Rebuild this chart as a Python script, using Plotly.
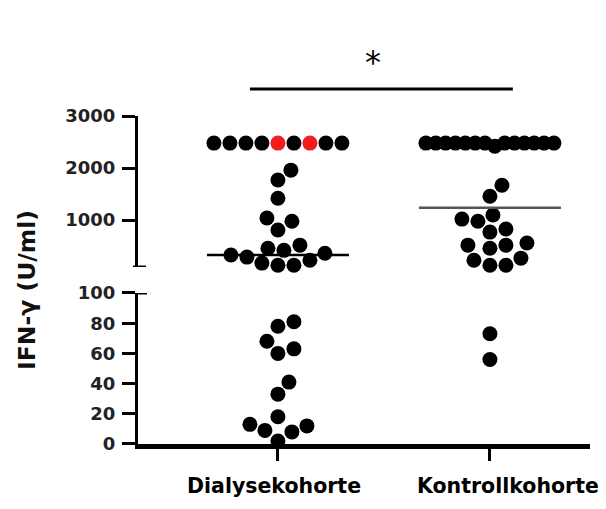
import math
import plotly.graph_objects as go

# ---------------- data ----------------
categories = ["Dialysekohorte", "Kontrollkohorte"]

dialyse_values = [2480, 2480, 2480, 2480, 2480, 2480, 2480, 2480, 2480,
                  1960, 1770, 1420, 1040, 980, 810,
                  520, 460, 420, 365, 330, 290, 230, 175, 135, 135,
                  81, 78, 68, 63, 60, 41, 33, 18, 13, 12, 9, 8, 2]
dialyse_highlight_idx = [0, 3]          # samples drawn in red

kontroll_values = [2480, 2480, 2480, 2480, 2480, 2480, 2480, 2420, 2480,
                   2480, 2480, 2480, 2480, 2480,
                   1670, 1460, 1100, 1020, 980, 830, 770,
                   560, 520, 520, 460, 270, 230, 135, 135,
                   73, 56]

median_values = [330, 1240]
axis_break = 100
upper_ticks = [1000, 2000, 3000]
lower_ticks = [0, 20, 40, 60, 80, 100]
y_title = "IFN-γ (U/ml)"
significance = "*"

# ---------------- layout geometry ----------------
W, H = 606, 509
PAGE_MARGIN = 8                      # default body margin of the html page
ML, MT = 138 - PAGE_MARGIN, 116 - PAGE_MARGIN
plot_w, plot_h = 452, 328
MR = W - ML - plot_w
MB = H - MT - plot_h
x_range = [-0.660, 1.472]
lower_range = [0, axis_break]
upper_range = [axis_break, 3000]
lower_domain = [0.0, 0.4604]
upper_domain = [0.5396, 1.0]

x_px = plot_w / (x_range[1] - x_range[0])
lower_px = plot_h * (lower_domain[1] - lower_domain[0]) / (lower_range[1] - lower_range[0])
upper_px = plot_h * (upper_domain[1] - upper_domain[0]) / (upper_range[1] - upper_range[0])

MARKER = 15
GAP = 16
HALF_W = 64
ROW_TOL = 4


def segment(v):
    return 0 if v < axis_break else 1


def y_pixel(v):
    if segment(v) == 0:
        return (v - lower_range[0]) * lower_px
    return (v - upper_range[0]) * upper_px


def beeswarm(values):
    n = len(values)
    offs = [0.0] * n
    placed = []
    done = set()
    capacity = 2 * HALF_W // GAP + 1
    order = sorted(range(n), key=lambda i: values[i])
    # rows of (nearly) equal values that do not fit are spread evenly
    rows, cur = [], [order[0]]
    for b in order[1:]:
        a = cur[0]
        if segment(values[a]) == segment(values[b]) and abs(y_pixel(values[b]) - y_pixel(values[a])) < ROW_TOL:
            cur.append(b)
        else:
            rows.append(cur)
            cur = [b]
    rows.append(cur)
    for row in rows:
        if len(row) > capacity:
            row = sorted(row)
            step = 2 * HALF_W / (len(row) - 1)
            for k, i in enumerate(row):
                o = -HALF_W + k * step
                offs[i] = o / x_px
                placed.append((segment(values[i]), o, y_pixel(values[i])))
                done.add(i)
    cands = sorted(range(-HALF_W, HALF_W + 1), key=lambda o: (abs(o), -o))
    for i in order:
        if i in done:
            continue
        s, y = segment(values[i]), y_pixel(values[i])
        best, best_d, fallback = None, -1.0, 0
        for o in cands:
            d = min((math.hypot(o - px, y - py) for (ss, px, py) in placed if ss == s),
                    default=math.inf)
            if d >= GAP:
                best = o
                break
            if d > best_d:
                best_d, fallback = d, o
        if best is None:
            best = fallback
        placed.append((s, best, y))
        offs[i] = best / x_px
    return offs


fig = go.Figure()

groups = [(dialyse_values, dialyse_highlight_idx), (kontroll_values, [])]
for ci, (vals, hl) in enumerate(groups):
    offs = beeswarm(vals)
    for seg, axis in ((0, "y"), (1, "y2")):
        idx = [i for i, v in enumerate(vals) if segment(v) == seg]
        idx.sort(key=lambda i: i in hl)
        fig.add_trace(go.Scatter(
            x=[ci + offs[i] for i in idx],
            y=[vals[i] for i in idx],
            yaxis=axis, mode="markers", cliponaxis=False,
            marker=dict(size=MARKER, color=["#f21d1d" if i in hl else "black" for i in idx],
                        line=dict(width=0)),
            showlegend=False, hoverinfo="y"))

median_colors = ["black", "#555555"]
for ci, m in enumerate(median_values):
    fig.add_trace(go.Scatter(
        x=[ci - 0.335, ci + 0.335], y=[m, m], yaxis="y2" if m >= axis_break else "y",
        mode="lines", line=dict(color=median_colors[ci], width=2.5),
        showlegend=False, hoverinfo="skip"))

tickfont = dict(family="DejaVu Sans", size=18, color="#222222", weight="bold")
common_y = dict(showline=True, linecolor="black", linewidth=3, ticks="outside",
                ticklen=13, tickwidth=3, tickcolor="black", showgrid=False,
                zeroline=False, tickfont=tickfont, ticklabelstandoff=3, anchor="x")

fig.update_layout(
    width=W, height=H, plot_bgcolor="white", paper_bgcolor="white",
    margin=dict(l=ML, r=MR, t=MT, b=MB), showlegend=False,
    xaxis=dict(range=x_range, showline=True, linecolor="black", linewidth=5,
               ticks="outside", tickvals=[0, 1], ticklen=12, tickwidth=3,
               tickcolor="black", showticklabels=False, showgrid=False,
               zeroline=False, anchor="y"),
    yaxis=dict(domain=lower_domain, range=lower_range, tickvals=lower_ticks, **common_y),
    yaxis2=dict(domain=upper_domain, range=upper_range, tickvals=upper_ticks, **common_y),
)

label_font = dict(family="DejaVu Sans", size=20.5, color="black", weight="bold")
label_shift = [-4, 18]
for ci, c in enumerate(categories):
    fig.add_annotation(x=ci, xref="x", y=-0.128, yref="paper", text=c, showarrow=False,
                       xanchor="center", yanchor="middle", xshift=label_shift[ci],
                       font=label_font)

fig.add_annotation(x=-0.2456, xref="paper", y=0.4695, yref="paper", text=y_title,
                   textangle=-90, showarrow=False, xanchor="center", yanchor="middle",
                   font=dict(family="DejaVu Sans", size=23.5, color="#111111", weight="bold"))

fig.add_shape(type="line", xref="paper", xsizemode="pixel", xanchor=0, x0=-5, x1=8,
              yref="y2", y0=axis_break, y1=axis_break, line=dict(color="black", width=3))
fig.add_shape(type="line", xref="paper", xsizemode="pixel", xanchor=0, x0=0, x1=9,
              yref="y", y0=axis_break, y1=axis_break, line=dict(color="black", width=3))

fig.add_shape(type="line", xref="x", x0=-0.132, x1=1.108, yref="paper", y0=1.0823, y1=1.0823,
              line=dict(color="black", width=3))
fig.add_annotation(x=0.448, xref="x", y=1.166, yref="paper", text=significance, showarrow=False,
                   xanchor="center", yanchor="middle",
                   font=dict(family="DejaVu Sans", size=32, color="black"))

fig.write_html("out.html")
